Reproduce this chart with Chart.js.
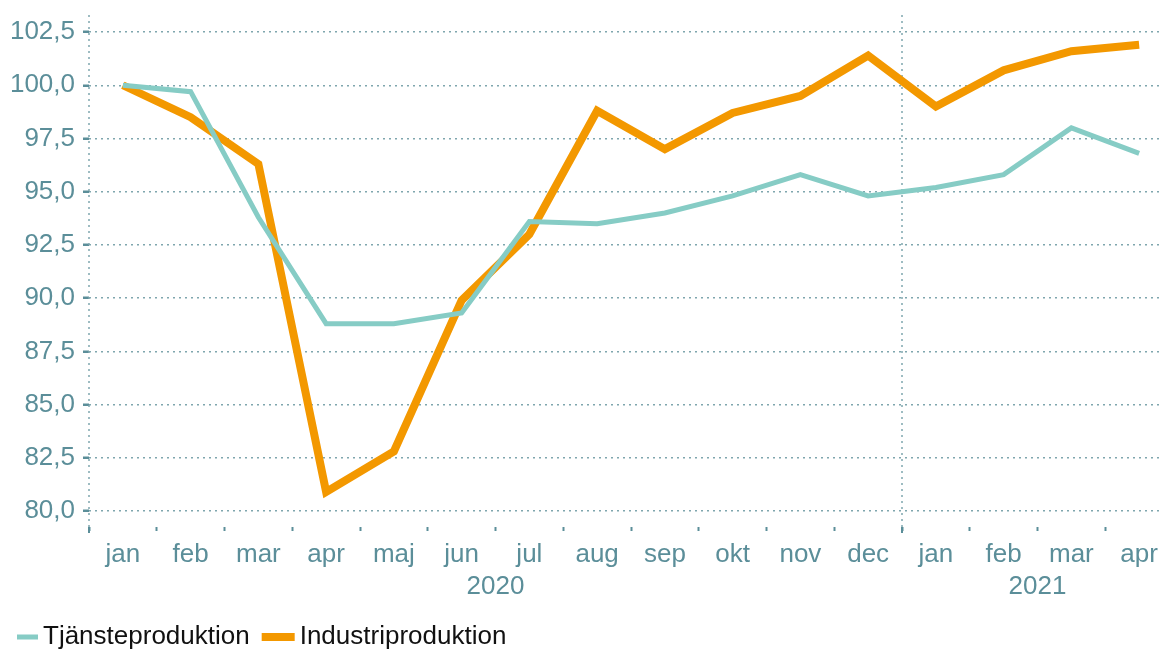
<!DOCTYPE html>
<html lang="sv">
  <head>
    <meta charset="utf-8" />
    <title>Tjänste- och industriproduktion</title>
    <style>
      * { margin: 0; padding: 0; }
      body { width: 1163px; height: 651px; overflow: hidden; background: #fff; }
      .box { width: 1176px; height: 651px; }
    </style>
  </head>
  <body>
    <div class="box"><canvas id="myChart" width="1176" height="651"></canvas></div>

    <script src="https://cdn.jsdelivr.net/npm/chart.js@4.4.1/dist/chart.umd.min.js"></script>
    <script>
      const months = ["jan", "feb", "mar", "apr", "maj", "jun", "jul", "aug", "sep", "okt", "nov", "dec",
                      "jan", "feb", "mar", "apr"];
      const years = [{ label: "2020", from: 0, to: 11 }, { label: "2021", from: 12, to: 15 }];
      const yTicks = [80, 82.5, 85, 87.5, 90, 92.5, 95, 97.5, 100, 102.5];
      const tjanste = [100.0, 99.7, 93.8, 88.8, 88.8, 89.3, 93.6, 93.5, 94.0, 94.8, 95.8, 94.8,
                       95.2, 95.8, 98.0, 96.8];
      const industri = [100.0, 98.5, 96.3, 80.9, 82.8, 89.9, 93.0, 98.8, 97.0, 98.7, 99.5, 101.4,
                        99.0, 100.7, 101.6, 101.9];

      const axisColor = "#5b8e99";
      const gridColor = "#7fa6ae";
      const teal = "#86ccc5";
      const orange = "#f39800";
      const font = "'Liberation Sans', Arial, sans-serif";

      // dotted y axis line, year separator, longer ticks and year labels
      const yearLabels = {
        id: "yearLabels",
        beforeDatasetsDraw(chart) {
          const { ctx, scales: { x }, chartArea } = chart;
          const sep = (x.getPixelForValue(11) + x.getPixelForValue(12)) / 2;
          ctx.save();
          ctx.strokeStyle = gridColor;
          ctx.lineWidth = 1.5;
          ctx.setLineDash([2, 4]);
          [chartArea.left, sep].forEach((px) => {
            ctx.beginPath();
            ctx.moveTo(px, chartArea.top);
            ctx.lineTo(px, chartArea.bottom);
            ctx.stroke();
          });
          ctx.restore();
        },
        afterDraw(chart) {
          const { ctx, scales: { x }, chartArea } = chart;
          const sep = (x.getPixelForValue(11) + x.getPixelForValue(12)) / 2;
          ctx.save();
          ctx.strokeStyle = axisColor;
          ctx.lineWidth = 2;
          [chartArea.left, sep].forEach((px) => {
            ctx.beginPath();
            ctx.moveTo(px, chartArea.bottom);
            ctx.lineTo(px, chartArea.bottom + 6);
            ctx.stroke();
          });
          ctx.font = "26px " + font;
          ctx.fillStyle = axisColor;
          ctx.textAlign = "center";
          ctx.textBaseline = "middle";
          const half = x.width / months.length / 2;
          years.forEach((yr) => {
            const a = x.getPixelForValue(yr.from) - half;
            const b = x.getPixelForValue(yr.to) + half;
            ctx.fillText(yr.label, (a + b) / 2, 587);
          });
          ctx.restore();
        },
      };

      const legendLines = {
        id: "legendLines",
        afterDraw(chart) {
          const { ctx } = chart;
          ctx.save();
          ctx.font = "26px " + font;
          ctx.textBaseline = "middle";
          const y = 637;
          let xPos = 17;
          chart.data.datasets.forEach((ds) => {
            const w = ds.borderWidth > 6 ? 33 : 21;
            ctx.fillStyle = ds.borderColor;
            ctx.fillRect(xPos, y - ds.borderWidth / 2, w, ds.borderWidth);
            xPos += w + 5;
            ctx.fillStyle = "#111";
            ctx.fillText(ds.label, xPos, y);
            xPos += ctx.measureText(ds.label).width + 12;
          });
          ctx.restore();
        },
      };

      const config = {
        type: "line",
        data: {
          labels: months,
          datasets: [
            {
              label: "Tjänsteproduktion",
              data: tjanste,
              borderColor: teal,
              backgroundColor: teal,
              borderWidth: 5,
              pointRadius: 0,
              tension: 0,
            },
            {
              label: "Industriproduktion",
              data: industri,
              borderColor: orange,
              backgroundColor: orange,
              borderWidth: 8,
              pointRadius: 0,
              tension: 0,
            },
          ],
        },
        options: {
          responsive: false,
          animation: false,
          layout: { padding: { top: 15, right: 3, left: 0, bottom: 0 } },
          plugins: {
            legend: { display: false },
            tooltip: { enabled: false },
          },
          scales: {
            x: {
              offset: true,
              afterFit(scale) { scale.height = 124; },
              border: { display: false },
              grid: {
                offset: true,
                drawOnChartArea: false,
                tickLength: 4,
                tickWidth: 2,
                tickColor: axisColor,
              },
              ticks: {
                color: axisColor,
                padding: 8,
                maxRotation: 0,
                autoSkip: false,
                font: { family: font, size: 26 },
              },
            },
            y: {
              min: 79.25,
              max: 103.3,
              afterFit(scale) {
                scale.width = 89;
                scale.paddingTop = 0;
                scale.paddingBottom = 0;
              },
              afterBuildTicks(scale) {
                scale.ticks = yTicks.map((v) => ({ value: v }));
              },
              border: { display: false, dash: [2, 4] },
              grid: {
                color: gridColor,
                lineWidth: 1.5,
                tickLength: 6,
                tickWidth: 2.5,
                tickColor: axisColor,
                tickBorderDash: [],
              },
              ticks: {
                color: axisColor,
                padding: 8,
                font: { family: font, size: 26 },
                callback: (v) => v.toFixed(1).replace(".", ","),
              },
            },
          },
        },
        plugins: [yearLabels, legendLines],
      };

      const myChart = new Chart(document.getElementById("myChart"), config);
    </script>
  </body>
</html>
